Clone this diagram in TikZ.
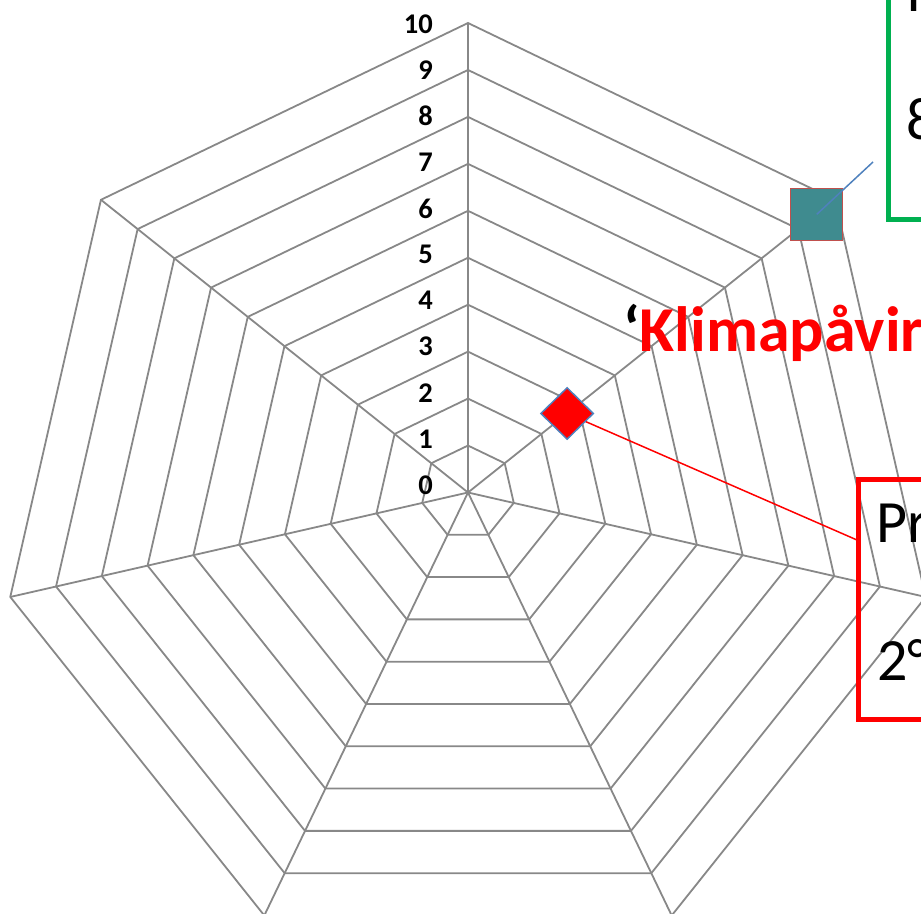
\documentclass[tikz,border=0pt]{standalone}
\usepackage{fontspec}
\setmainfont{Carlito}
\usetikzlibrary{shapes.geometric}
\definecolor{grille}{RGB}{136,136,136}
\definecolor{sarcelle}{RGB}{63,139,143}
\definecolor{brique}{RGB}{192,80,77}
\definecolor{bleuxl}{RGB}{79,129,189}
\definecolor{vertxl}{RGB}{0,176,80}
\begin{document}
\begin{tikzpicture}[x=1pt,y=1pt,
    trait/.style={grille,line width=1.8pt},
    chiffre/.style={anchor=east,inner sep=0pt,font=\fontsize{28.5}{30}\selectfont\bfseries},
    texte/.style={anchor=base west,inner sep=0pt,font=\fontsize{60}{70}\selectfont},
    cadre/.style={line width=5pt}]
    \def\pas{46.95}
    \useasboundingbox (-468,-420.5) rectangle (453,492.5);
    \clip (-468,-420.5) rectangle (453,492.5);
    % toile : heptagones et rayons
    \foreach \k in {1,...,10}
        \draw[trait] (90:{\k*\pas}) \foreach \a in {1,...,6}{ -- ({90+\a*360/7}:{\k*\pas})} -- cycle;
    \foreach \a in {0,...,6}
        \draw[trait] (0,0) -- ({90+\a*360/7}:{10*\pas});
    \foreach \k in {0,...,10}
        \node[chiffre] (n\k) at (-35,{7.5+46.1*\k}) {\k};
    % points et renvois
    \coordinate (bout) at (405,330.5);
    \coordinate (rbout) at (389,-47.5);
    \draw[red,line width=1.5pt] (38.571:{2.7*\pas}) -- (rbout);
    \node[diamond,aspect=1,minimum width=53pt,minimum height=52pt,inner sep=0pt,
        fill=red,draw=bleuxl,line width=1.5pt] (losange) at (38.571:{2.7*\pas}) {};
    \node[rectangle,minimum size=52pt,inner sep=0pt,fill=sarcelle,draw=brique,
        line width=1.5pt] (carre) at (38.571:{9.5*\pas}) {};
    \draw[bleuxl,line width=1.5pt] (carre.center) -- (bout);
    \node[anchor=base west,inner sep=0pt,font=\fontsize{64}{70}\selectfont\bfseries]
        (titre) at (155,140.5) {‘\textcolor{red}{Klimapåvir}};
    % cadres
    \draw[cadre,vertxl] (420.5,520) -- (420.5,272.5) -- (520,272.5);
    \draw[cadre,red] (520,13) -- (390.5,13) -- (390.5,-227) -- (520,-227);
    \node[texte] (l1) at (438,480.5) {I};
    \node[texte] (l2) at (438,352.5) {8};
    \node[texte] (pr) at (408,-49.5) {Pr};
    \node[texte] (deg) at (409,-187.5) {2°};
\end{tikzpicture}
\end{document}
